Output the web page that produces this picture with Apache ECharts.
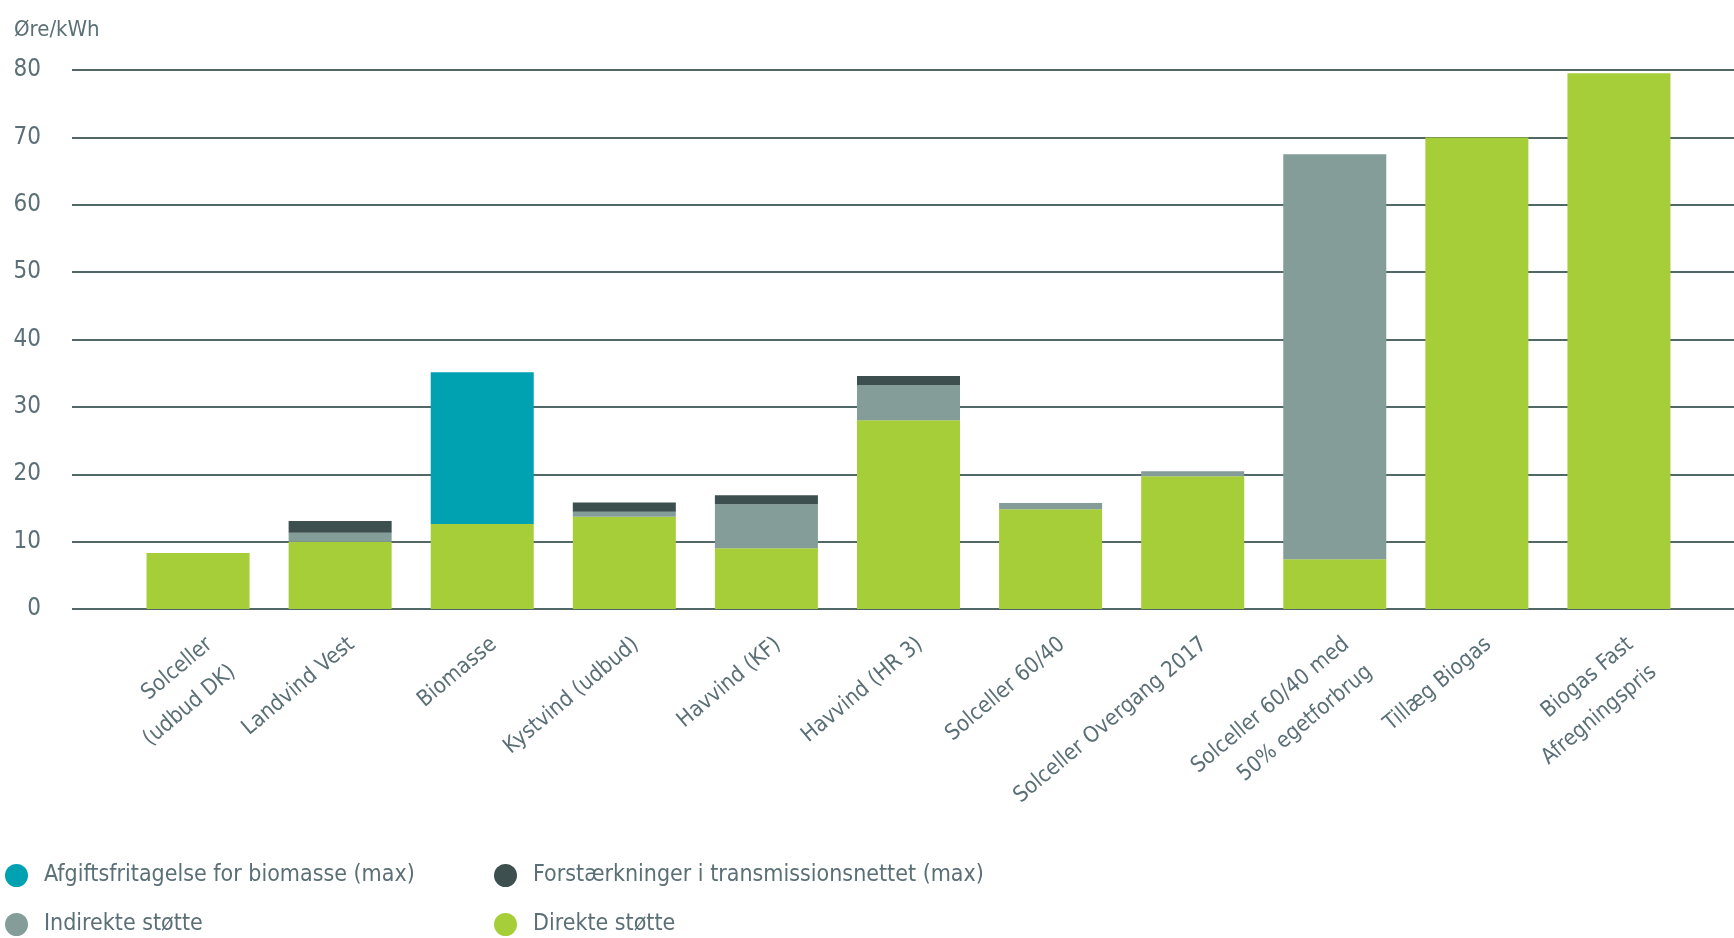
<!DOCTYPE html>
<html>
<head>
<meta charset="utf-8">
<script src="https://cdn.jsdelivr.net/npm/echarts@6/dist/echarts.min.js"></script>
<style>
  html, body { margin: 0; padding: 0; background: #fff; }
  #chart { width: 1734px; height: 938px; }
</style>
</head>
<body>
<div id="chart"></div>
<script>
// Categories (x axis)
const categories = [
  'Solceller\n(udbud DK)',
  'Landvind Vest',
  'Biomasse',
  'Kystvind (udbud)',
  'Havvind (KF)',
  'Havvind (HR 3)',
  'Solceller 60/40',
  'Solceller Overgang 2017',
  'Solceller 60/40 med\n50% egetforbrug',
  'Tillæg Biogas',
  'Biogas Fast\nAfregningspris'
];

// Stacked values, øre/kWh (bottom to top)
const direkte = [8.3, 10.0, 12.6, 13.7, 9.0, 28.0, 14.8, 19.7, 7.4, 70.0, 79.5];
const indirekte = [0, 1.3, 0, 0.75, 6.55, 5.25, 0.95, 0.75, 60.1, 0, 0];
const forstaerkninger = [0, 1.75, 0, 1.35, 1.35, 1.35, 0, 0, 0, 0, 0];
const afgiftsfritagelse = [0, 0, 22.55, 0, 0, 0, 0, 0, 0, 0, 0];

const yTicks = { min: 0, max: 80, interval: 10 };

const FONT = "'Liberation Sans Narrow', 'DejaVu Sans Condensed', sans-serif";
const TEXT = '#5a6f76';
const COLORS = {
  afgift: '#00a1b0',
  forst: '#3d4f4e',
  indirekte: '#849d98',
  direkte: '#a6ce39'
};

const chart = echarts.init(document.getElementById('chart'));

const barSeries = (name, data, color) => ({
  name: name,
  type: 'bar',
  stack: 'total',
  xAxisIndex: 1,
  yAxisIndex: 1,
  barWidth: '72.5%',
  data: data,
  itemStyle: { color: color },
  emphasis: { disabled: true }
});

const legendAt = (name, left, top) => ({
  data: [name],
  left: left,
  top: top,
  icon: 'circle',
  itemWidth: 23,
  itemHeight: 23,
  selectedMode: false,
  textStyle: { color: TEXT, fontSize: 23, fontFamily: FONT, padding: [0, 0, 0, 11] }
});

const option = {
  backgroundColor: '#fff',
  animation: false,
  title: {
    text: 'Øre/kWh',
    left: 9,
    top: 14,
    textStyle: { color: TEXT, fontSize: 22, fontWeight: 'normal', fontFamily: FONT }
  },
  legend: [
    legendAt('Afgiftsfritagelse for biomasse (max)', 0, 859),
    legendAt('Forstærkninger i transmissionsnettet (max)', 489, 859),
    legendAt('Indirekte støtte', 0, 908),
    legendAt('Direkte støtte', 489, 908)
  ],
  grid: [
    // wide grid: only the horizontal gridlines and y labels
    { left: 72, right: 0, top: 70, bottom: 329 },
    // bar grid
    { left: 127, right: 44, top: 70, bottom: 329 }
  ],
  xAxis: [
    { gridIndex: 0, type: 'value', show: false, min: 0, max: 1 },
    {
      gridIndex: 1,
      type: 'category',
      data: categories,
      axisLine: { show: false },
      axisTick: { show: false },
      axisLabel: {
        interval: 0,
        rotate: 40,
        margin: 19,
        verticalAlign: 'top',
        color: TEXT,
        fontSize: 22,
        lineHeight: 36,
        fontFamily: FONT
      }
    }
  ],
  yAxis: [
    {
      gridIndex: 0,
      type: 'value',
      min: yTicks.min,
      max: yTicks.max,
      interval: yTicks.interval,
      axisLine: { show: false },
      axisTick: { show: false },
      axisLabel: { color: TEXT, fontSize: 24, fontFamily: FONT, margin: 31 },
      splitLine: { lineStyle: { color: '#516866', width: 2 } }
    },
    {
      gridIndex: 1,
      type: 'value',
      min: yTicks.min,
      max: yTicks.max,
      interval: yTicks.interval,
      show: false,
      splitLine: { show: false }
    }
  ],
  series: [
    barSeries('Direkte støtte', direkte, COLORS.direkte),
    barSeries('Indirekte støtte', indirekte, COLORS.indirekte),
    barSeries('Forstærkninger i transmissionsnettet (max)', forstaerkninger, COLORS.forst),
    barSeries('Afgiftsfritagelse for biomasse (max)', afgiftsfritagelse, COLORS.afgift)
  ]
};

chart.setOption(option);
</script>
</body>
</html>
